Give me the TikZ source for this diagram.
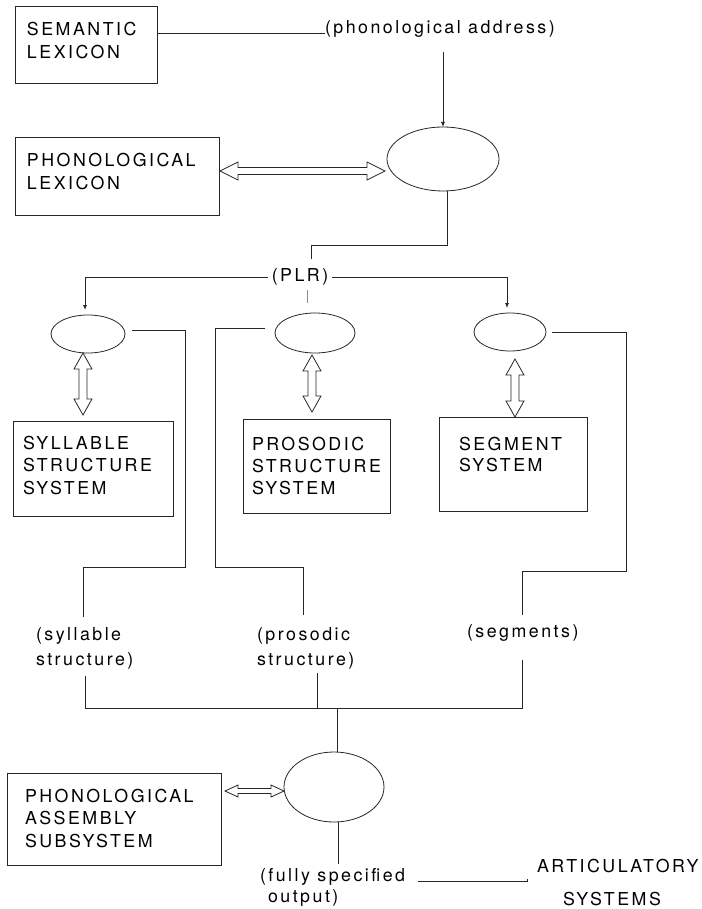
\documentclass[tikz,border=0pt]{standalone}
\usepackage{fontspec}
\setmainfont{TeX Gyre Heros}[LetterSpace=14]
\usetikzlibrary{shapes.geometric,arrows.meta,calc}
\newcommand\hdarr[5]{\draw[darr] let \p1=#1, \p2=#2 in (\x1,\y1) -- (\x1+#3,\y1+#4) -- (\x1+#3,\y1+#5) -- (\x2-#3,\y1+#5) -- (\x2-#3,\y1+#4) -- (\x2,\y1) -- (\x2-#3,\y1-#4) -- (\x2-#3,\y1-#5) -- (\x1+#3,\y1-#5) -- (\x1+#3,\y1-#4) -- cycle;}
\newcommand\vdarr[5]{\draw[darr] let \p1=#1, \p2=#2 in (\x1,\y1) -- (\x1+#4,\y1-#3) -- (\x1+#5,\y1-#3) -- (\x1+#5,\y2+#3) -- (\x1+#4,\y2+#3) -- (\x1,\y2) -- (\x1-#4,\y2+#3) -- (\x1-#5,\y2+#3) -- (\x1-#5,\y1-#3) -- (\x1-#4,\y1-#3) -- cycle;}
\tikzset{
  box/.style={draw=black!85, line width=0.8pt, inner sep=0pt, outer sep=0pt},
  ell/.style={draw=black!85, ellipse, line width=0.8pt, inner sep=0pt, outer sep=0pt},
  txt/.style={inner sep=0pt, outer sep=0pt, align=left},
  lbl2/.style={txt, font=\fontsize{17.8}{25}\selectfont},
  ln/.style={draw=black!85, line width=0.8pt},
  arrsm/.style={ln, -{Latex[length=5pt,width=4pt]}},
  darr/.style={draw=black!85, line width=0.8pt, fill=white, line join=miter}
}
\begin{document}
\begin{tikzpicture}[x=1pt,y=-1pt,font=\fontsize{17.8}{23}\selectfont]
\useasboundingbox (0,0) rectangle (701,909);
% boxes
\node[box, minimum width=142pt, minimum height=77pt] (sem) at (86,44.5) {};
\node[txt, anchor=north west] (semt) at (27,22.7) {SEMANTIC\\LEXICON};
\node[box, minimum width=204pt, minimum height=78pt] (phl) at (117,176) {};
\node[txt, anchor=north west] (phlt) at (27,153.7) {PHONOLOGICAL\\LEXICON};
\node[box, minimum width=160pt, minimum height=95pt] (syl) at (93,468.5) {};
\node[txt, anchor=north west, font=\fontsize{17.8}{22.5}\selectfont] (sylt) at (23,435.7) {SYLLABLE\\STRUCTURE\\SYSTEM};
\node[box, minimum width=147pt, minimum height=94pt] (pro) at (316.5,466) {};
\node[txt, anchor=north west, font=\fontsize{17.8}{22}\selectfont] (prot) at (252,436.7) {PROSODIC\\STRUCTURE\\SYSTEM};
\node[box, minimum width=148pt, minimum height=94pt] (seg) at (513,464) {};
\node[txt, anchor=north west, font=\fontsize{17.8}{21.5}\selectfont] (segt) at (459,436.7) {SEGMENT\\SYSTEM};
\node[box, minimum width=214pt, minimum height=92pt] (asm) at (114,819) {};
\node[txt, anchor=north west, font=\fontsize{17.8}{22.5}\selectfont] (asmt) at (25,788.7) {PHONOLOGICAL\\ASSEMBLY\\SUBSYSTEM};
% ellipses
\node[ell, minimum width=112pt, minimum height=64pt] (E0) at (443,159) {};
\node[ell, minimum width=74pt, minimum height=38pt] (E1) at (88,334) {};
\node[ell, minimum width=80pt, minimum height=40pt] (E2) at (315,333) {};
\node[ell, minimum width=72pt, minimum height=38pt] (E3) at (510,332) {};
\node[ell, minimum width=100pt, minimum height=70pt] (E4) at (334,787) {};
% labels
\node[txt, anchor=west] (pa) at (325,29) {(phonological address)};
\node[txt] (plr) at (300,277) {(PLR)};
\node[lbl2, anchor=north west] (sylab) at (36,628) {(syllable\\structure)};
\node[lbl2, anchor=north west] (prolab) at (257,628) {(prosodic\\structure)};
\node[txt, anchor=west] (seglab) at (467,633) {(segments)};
\node[txt, anchor=west] (fs1) at (260,877) {(fully specified};
\node[txt, anchor=west] (fs2) at (268,898) {output)};
\node[txt, anchor=west] (art1) at (537,866) {ARTICULATORY};
\node[txt, anchor=west] (art2) at (563,899) {SYSTEMS};
% connectors
\draw[ln] (sem.east |- pa.base) -- (pa.base west);
\coordinate (paT) at ([yshift=-15pt]pa.south);
\draw[arrsm] (paT -| E0.north) -- (E0.north);
\hdarr{([xshift=1pt,yshift=5pt]phl.east)}{([xshift=-2pt]E0.west)}{18pt}{9pt}{3.5pt}
\draw[ln] ([xshift=4pt]E0.south) -- ++(0,54) -| ([xshift=11pt,yshift=10pt]plr.north);
\draw[arrsm, shorten >=5pt] ([xshift=-4pt]plr.west) -| ([xshift=-3pt]E1.north);
\draw[arrsm, shorten >=5pt] ([xshift=4pt]plr.east) -| ([xshift=-3pt]E3.north);
\coordinate (plrA) at ([xshift=7pt,yshift=-5pt]plr.south);
\coordinate (plrB) at ([xshift=7pt,yshift=-18pt]plr.south);
\draw[ln, draw=black!45] (plrA) -- (plrB);
\vdarr{([xshift=-5pt]E1.south)}{([yshift=6pt]syl.north)}{16pt}{9pt}{4pt}
\vdarr{([xshift=-3pt,yshift=-2pt]E2.south)}{([yshift=7pt]pro.north)}{16pt}{9pt}{4pt}
\vdarr{([xshift=5pt,yshift=-8pt]E3.south)}{(seg.north)}{16pt}{9pt}{4pt}
\coordinate (k1) at (185,567);
\coordinate (k2) at (215,567);
\coordinate (k3) at (626,571);
\draw[ln] ([xshift=7pt,yshift=4pt]E1.east) -| (k1) -| ([xshift=47pt,yshift=11pt]sylab.north west);
\draw[ln] ([xshift=-10pt,yshift=5pt]E2.west) -| (k2) -| ([xshift=46pt,yshift=13pt]prolab.north west);
\draw[ln] ([xshift=6pt]E3.east) -| (k3) -| ([yshift=10pt]seglab.north);
\coordinate (jn) at (337,708);
\draw[ln] ([xshift=49pt,yshift=-6pt]sylab.south west) |- (jn);
\draw[ln] ([yshift=-19pt]seglab.south) |- (jn);
\coordinate (pb) at ([xshift=60pt,yshift=-3pt]prolab.south west);
\draw[ln] (pb) -- (pb |- jn);
\draw[ln] (jn) -- (jn |- E4.north);
\coordinate (fsT) at ([yshift=5pt]fs1.north);
\coordinate (e4b) at ([xshift=4pt]E4.south);
\draw[ln] (e4b) -- (e4b |- fsT);
\hdarr{([xshift=4pt,yshift=28pt]asm.east)}{(E4.west)}{13pt}{6pt}{2.5pt}
\coordinate (a1) at ([xshift=13pt]fs1.base east);
\coordinate (a2) at ([xshift=-10pt]art1.west);
\draw[ln] (a1) -- (a2 |- a1) -- ++(0,-3);
\end{tikzpicture}
\end{document}
